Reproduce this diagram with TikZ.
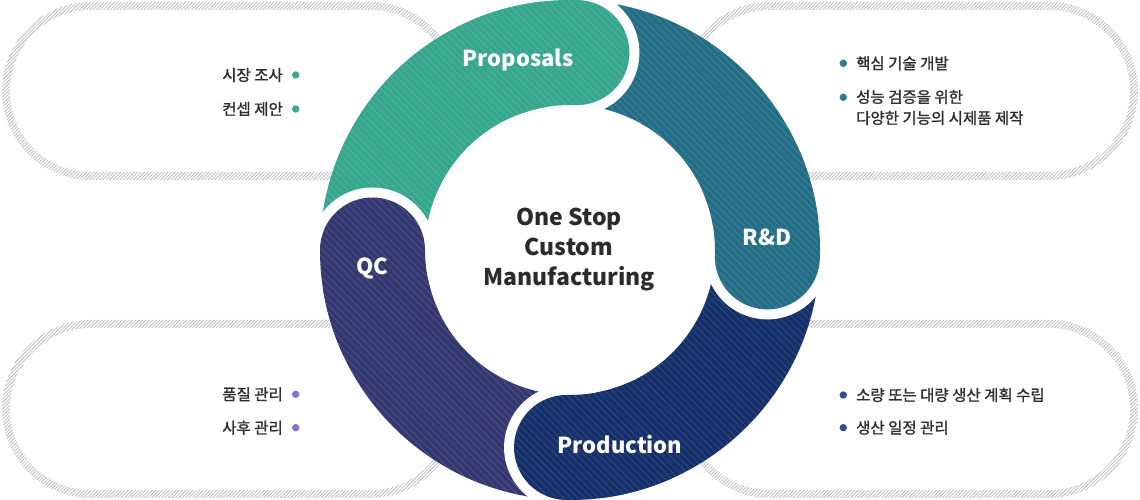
\documentclass[tikz,border=0pt]{standalone}
\usepackage{fontspec}
\setmainfont{Noto Sans CJK KR}
\newfontfamily\itemfont{Noto Sans CJK KR}[FakeBold=1.3]
\usetikzlibrary{patterns.meta}
\definecolor{propcol}{HTML}{36A78D}
\definecolor{rndcol}{HTML}{236E86}
\definecolor{prodcol}{HTML}{15306A}
\definecolor{qccol}{HTML}{333870}
\definecolor{propdot}{HTML}{3AA98F}
\definecolor{rnddot}{HTML}{2E7D95}
\definecolor{proddot}{HTML}{2E4F98}
\definecolor{qcdot}{HTML}{8470D6}
\definecolor{pillgray}{HTML}{BBBBBB}
\definecolor{itemtext}{HTML}{2E2E2E}
\definecolor{maintext}{HTML}{2B2B2B}

\begin{document}
\begin{tikzpicture}[x=1pt,y=1pt,
  pill/.style={pattern={Lines[angle=45,distance=2.4pt,line width=0.8pt]},pattern color=pillgray},
  seg/.style={fill=#1,postaction={pattern={Lines[angle=-45,distance=5pt,line width=0.5pt]},pattern color=#1!82!white}},
  tag/.style={text=white,font=\bfseries\fontsize{22}{26}\selectfont,inner sep=0pt},
  item/.style={text=itemtext,font=\itemfont\fontsize{15.5}{21}\selectfont,inner sep=0pt},
  dot/.style={circle,fill=#1,inner sep=0pt,minimum size=7.4pt}]
\def \ringout {250pt}
\def \ringin {145pt}
\def \ringmid {197.5pt}
\def \headr {52.5pt}
\def \gapr {62.5pt}
\useasboundingbox (0,0) rectangle (1140,500);
\foreach \x/\y in {2/320, 681/320, 2/2, 681/2} {
  \path[pill,rounded corners=89pt] (\x,\y) rectangle ++(457,178);
  \fill[white,rounded corners=81pt] (\x+8,\y+8) rectangle ++(441,162);
}
\fill[white] (570,250) circle[radius=\ringout];
\begin{scope}[shift={(570,250)}]
\foreach \a/\b/\c in {180/88/propcol, 88/-2/rndcol, -2/-91/prodcol, -91/-180/qccol}
  \path[seg=\c] (\a:\ringout) arc[start angle=\a, end angle=\b, radius=\ringout]
    -- (\b:\ringin) arc[start angle=\b, end angle=\a, radius=\ringin] -- cycle;
\foreach \b/\c in {88/propcol, -2/rndcol, -91/prodcol, -180/qccol} {
  \fill[white] (\b:\ringmid) circle[radius=\gapr];
  \path[seg=\c] ({\b+25}:\ringout) arc[start angle=\b+25, end angle=\b, radius=\ringout]
    arc[start angle=\b, end angle=\b-180, radius=\headr]
    arc[start angle=\b, end angle=\b+25, radius=\ringin] -- cycle;
}
\end{scope}
\node[tag] (prop) at (518,440) {Proposals};
\node[tag] (rnd) at (767,263) {R\&D};
\node[tag] (prod) at (620,55) {Production};
\node[tag] (qc) at (372,232) {QC};
\node[align=center,text=maintext,font=\bfseries\fontsize{23}{30}\selectfont] (hub) at (569,250) {One Stop\\Custom\\Manufacturing};
\node[dot=propdot] (d1) at (295.7,425) {};
\node[dot=propdot] (d2) at (295.7,391) {};
\node[item,anchor=east] (mkt) at (283,425) {시장 조사};
\node[item,anchor=east] (cpt) at (283,391) {컨셉 제안};
\node[dot=rnddot] (d3) at (843.3,436.7) {};
\node[dot=rnddot] (d4) at (843.3,402.7) {};
\node[item,anchor=west] (core) at (856,436.7) {핵심 기술 개발};
\node[item,anchor=west,align=left] (proto) at (856,392.5) {성능 검증을 위한\\다양한 기능의 시제품 제작};
\node[dot=proddot] (d5) at (843.3,105) {};
\node[dot=proddot] (d6) at (843.3,72.3) {};
\node[item,anchor=west] (plan) at (856,105) {소량 또는 대량 생산 계획 수립};
\node[item,anchor=west] (sched) at (856,72.3) {생산 일정 관리};
\node[dot=qcdot] (d7) at (295.7,105.7) {};
\node[dot=qcdot] (d8) at (295.7,72.3) {};
\node[item,anchor=east] (qual) at (283,105.7) {품질 관리};
\node[item,anchor=east] (after) at (283,72.3) {사후 관리};
\end{tikzpicture}
\end{document}
